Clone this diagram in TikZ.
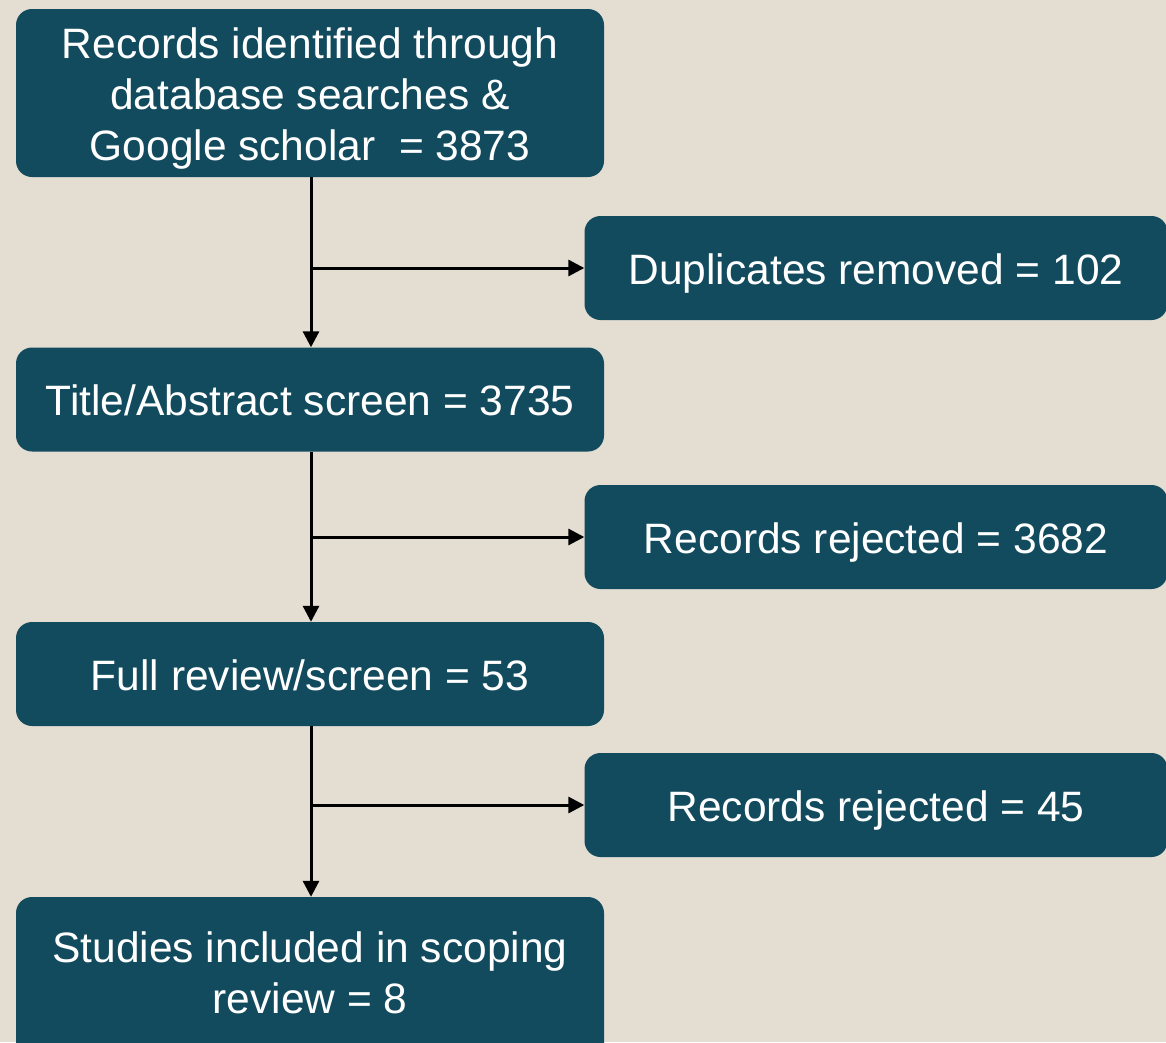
\documentclass[tikz,border=0pt]{standalone}
\usepackage{fontspec}
\setmainfont{Liberation Sans}
\usetikzlibrary{arrows.meta}
\definecolor{bgbeige}{HTML}{E3DDD2}
\definecolor{boxteal}{HTML}{124B5E}
\tikzset{
  boxtext/.style={text=white, align=center, inner sep=0pt,
    font=\fontsize{42.5}{51}\selectfont, text height=32pt, text depth=0pt},
  flowbox/.style={boxtext, fill=boxteal, rounded corners=16pt},
  flowline/.style={line width=3pt, draw=black,
    -{Triangle[length=16pt,width=16pt]}}
}
\begin{document}
\begin{tikzpicture}[x=1pt,y=-1pt]
  % canvas
  \fill[bgbeige] (0,0) rectangle (1166,1042);
  \useasboundingbox (0,0) rectangle (1166,1042);
  \clip (0,0) rectangle (1166,1042);

  % left column
  \node[flowbox, text height=134pt, minimum width=588pt, minimum height=168pt] (records) at (310,93)
    {Records identified through\\database searches \&\\Google scholar\ \ = 3873};
  \node[flowbox, minimum width=588pt, minimum height=104pt] (title) at (310,399.5)
    {Title/Abstract screen = 3735};
  \node[flowbox, minimum width=588pt, minimum height=104pt] (full) at (310,674)
    {Full review/screen = 53};
  \node[flowbox, minimum width=588pt, minimum height=166pt] (studies) at (310,980)
    {};
  \node[boxtext, text height=83pt] (studiestxt) at (310,971.5)
    {Studies included in scoping\\review = 8};

  % right column
  \node[flowbox, minimum width=583pt, minimum height=104pt] (dup) at (876,268)
    {Duplicates removed = 102};
  \node[flowbox, minimum width=583pt, minimum height=104pt] (rej1) at (876,537)
    {Records rejected = 3682};
  \node[flowbox, minimum width=583pt, minimum height=104pt] (rej2) at (876,805)
    {Records rejected = 45};

  % junctions on the main flow
  \coordinate (j1) at ([xshift=1pt]records.south |- dup.west);
  \coordinate (j2) at ([xshift=1pt]title.south |- rej1.west);
  \coordinate (j3) at ([xshift=1pt]full.south |- rej2.west);

  % connectors
  \draw[flowline] ([xshift=1pt]records.south) -- ([xshift=1pt]title.north);
  \draw[flowline] ([xshift=1pt]title.south) -- ([xshift=1pt]full.north);
  \draw[flowline] ([xshift=1pt]full.south) -- ([xshift=1pt]studies.north);
  \draw[flowline] (j1) -- (dup.west);
  \draw[flowline] (j2) -- (rej1.west);
  \draw[flowline] (j3) -- (rej2.west);
\end{tikzpicture}
\end{document}
